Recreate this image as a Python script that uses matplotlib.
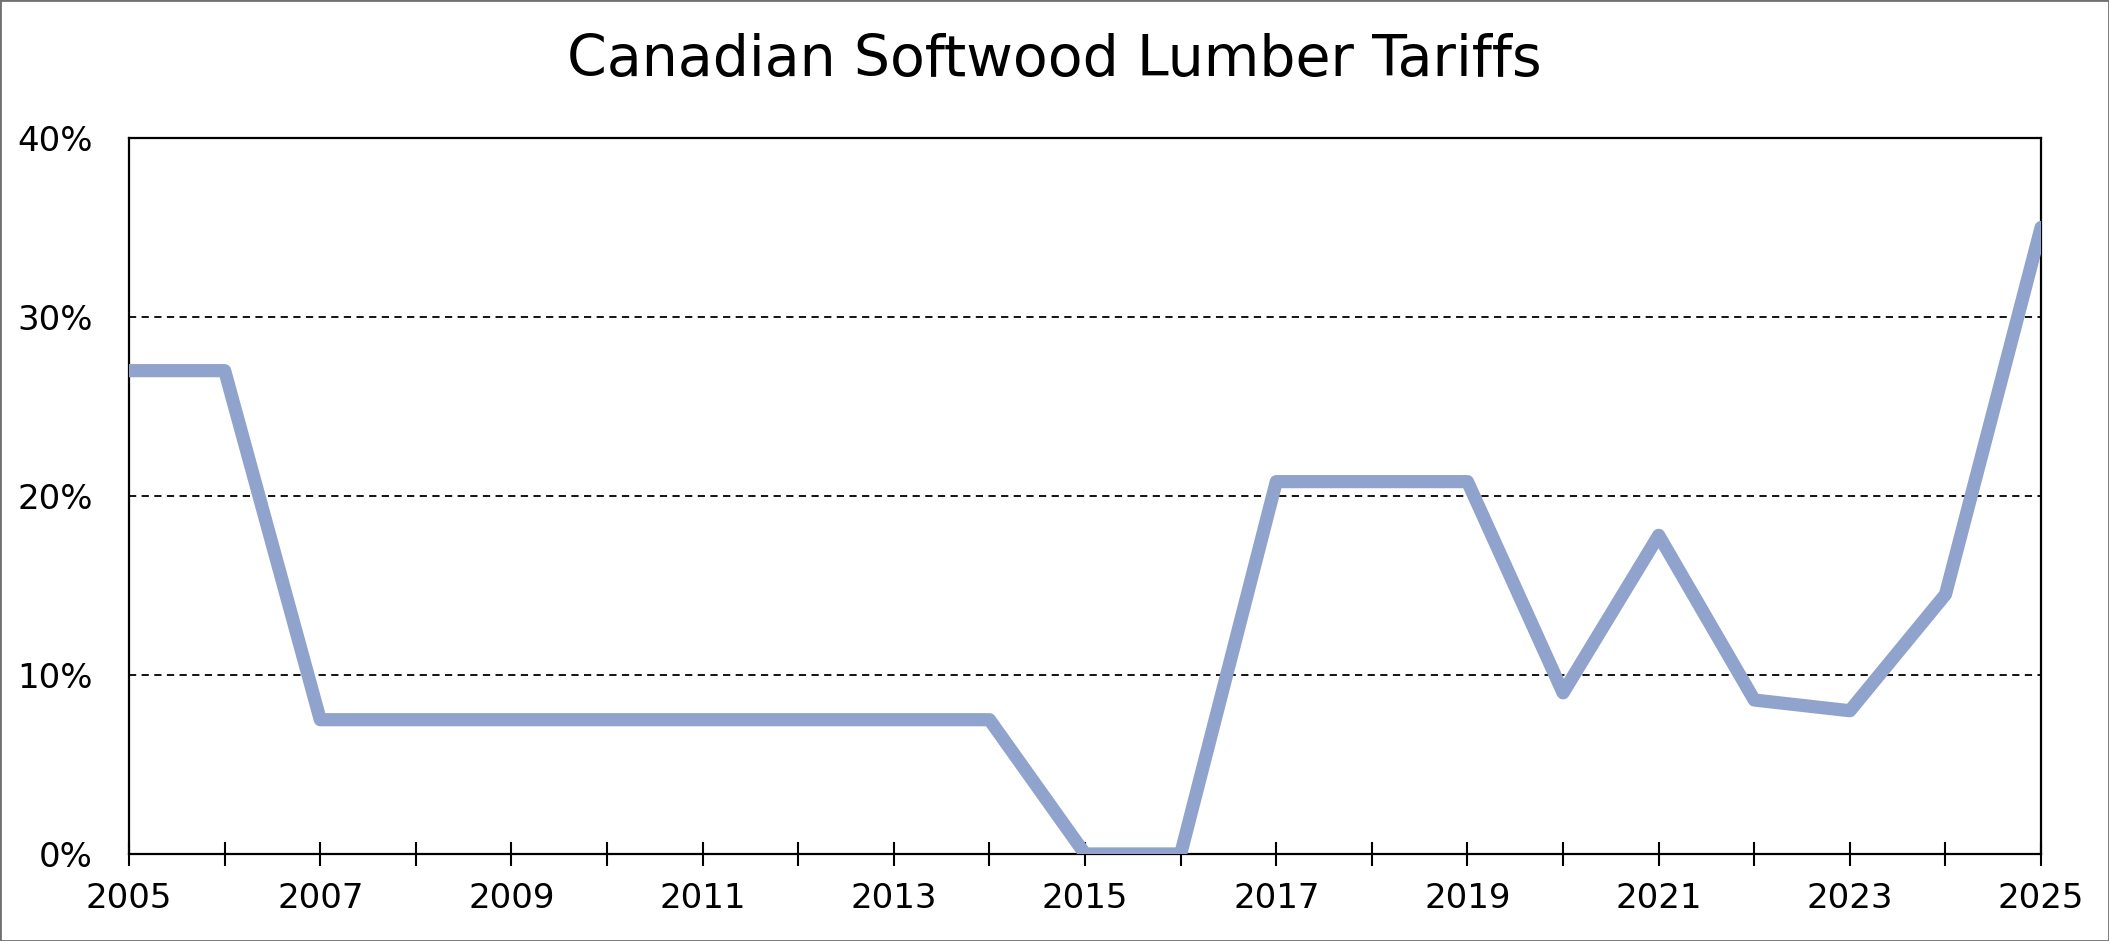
import matplotlib
matplotlib.use("Agg")
import matplotlib.pyplot as plt
from matplotlib.patches import Rectangle
from matplotlib.ticker import FuncFormatter, MultipleLocator

years = list(range(2005, 2026))
tariff = [27.0, 27.0, 7.5, 7.5, 7.5, 7.5, 7.5, 7.5, 7.5, 7.5,
          0.0, 0.0, 20.8, 20.8, 20.8, 9.0, 17.8, 8.6, 8.0, 14.5, 35.0]
year_labels = [str(y) if (y - 2005) % 2 == 0 else "" for y in years]

plt.rcParams['font.family'] = ['DejaVu Sans']

fig = plt.figure(figsize=(21.09, 9.41), dpi=100)
ax = fig.add_axes([0.0612, 0.0925, 0.9066, 0.7609])

ax.plot(years, tariff, color='#8fa3cc', linewidth=9.5,
        solid_joinstyle='round', solid_capstyle='round', zorder=3)

ax.set_xlim(2005, 2025)
ax.set_ylim(0, 40)
ax.set_xticks(years)
ax.set_xticklabels(year_labels)
ax.yaxis.set_major_locator(MultipleLocator(10))
ax.yaxis.set_major_formatter(FuncFormatter(lambda v, p: f"{v:.0f}%"))

ax.grid(axis='y', color='black', linestyle=(0, (4, 3)), linewidth=1.3)
for s in ax.spines.values():
    s.set_linewidth(1.6)
    s.set_color('black')

ax.tick_params(axis='x', direction='inout', length=17, width=1.5,
               labelsize=24.5, pad=12)
ax.tick_params(axis='y', length=0, labelsize=24.5, pad=26)

fig.text(0.5, 0.936, "Canadian Softwood Lumber Tariffs", fontsize=41,
         ha='center', va='center')

fig.patches.append(Rectangle((0, 0), 1, 1, transform=fig.transFigure,
                             fill=False, edgecolor='#707070', linewidth=2))

fig.savefig("out.png", dpi=100)
